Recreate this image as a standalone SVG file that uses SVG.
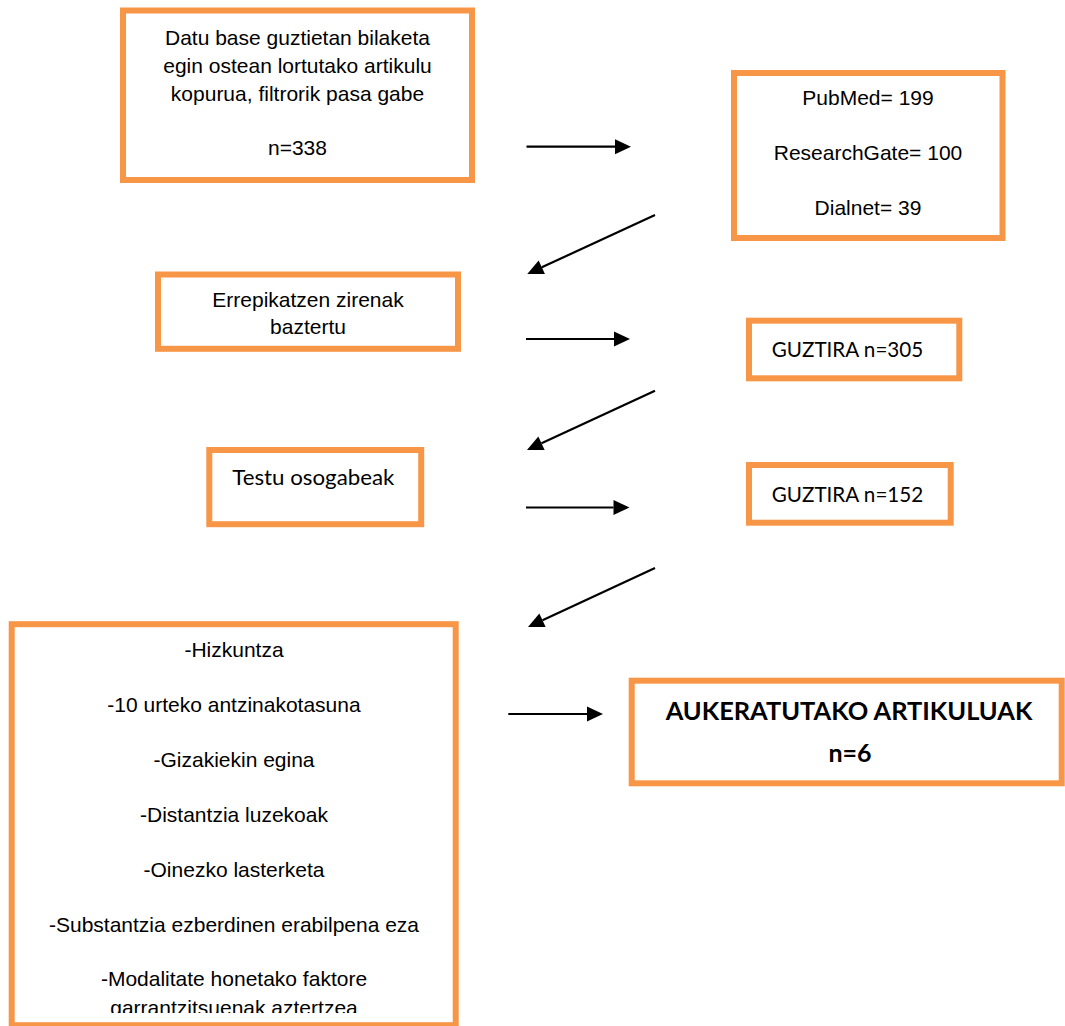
<svg xmlns="http://www.w3.org/2000/svg" width="1065" height="1026" viewBox="0 0 1065 1026">
<style>
.box{fill:#fff;stroke:#F79646;stroke-width:6}
.a{font-family:"Liberation Sans",Arial,sans-serif;font-size:21px;fill:#000;text-anchor:middle}
.c{font-family:Lato,"Open Sans",sans-serif;font-size:21px;fill:#000}
.cb{font-family:Lato,"Open Sans",sans-serif;font-size:25px;font-weight:bold;fill:#000;text-anchor:middle}
.conn{stroke:#000;stroke-width:2.2;fill:none;marker-end:url(#ah)}
</style>
<defs>
<marker id="ah" markerUnits="userSpaceOnUse" markerWidth="17" markerHeight="16" refX="0" refY="7.5" orient="auto" overflow="visible">
<path d="M0,0 L16,7.5 L0,15 Z" fill="#000"/>
</marker>
<clipPath id="clipCrit"><rect x="15" y="627" width="437" height="386"/></clipPath>
</defs>
<rect width="1065" height="1026" fill="#fff"/>
<g id="n1">
<rect class="box" x="123" y="10.5" width="349" height="169.5"/>
<text class="a" x="297.5" y="44.5">Datu base guztietan bilaketa</text>
<text class="a" x="297.5" y="72.5">egin ostean lortutako artikulu</text>
<text class="a" x="297.5" y="100.5">kopurua, filtrorik pasa gabe</text>
<text class="a" x="297.5" y="154.5">n=338</text>
</g>
<g id="n2">
<rect class="box" x="734" y="73" width="268.5" height="165"/>
<text class="a" x="868" y="105">PubMed= 199</text>
<text class="a" x="868" y="160">ResearchGate= 100</text>
<text class="a" x="868" y="215">Dialnet= 39</text>
</g>
<g id="n3">
<rect class="box" x="158" y="274.5" width="300" height="74.3"/>
<text class="a" x="308" y="306.7">Errepikatzen zirenak</text>
<text class="a" x="308" y="334">baztertu</text>
</g>
<g id="n4">
<rect class="box" x="749" y="320.7" width="210.3" height="57.6"/>
<text class="c" x="771.7" y="356.7" textLength="151.6" lengthAdjust="spacingAndGlyphs">GUZTIRA n=305</text>
</g>
<g id="n5">
<rect class="box" x="209.3" y="450" width="211.9" height="74.2"/>
<text class="c" x="232.3" y="485" textLength="162" lengthAdjust="spacingAndGlyphs">Testu osogabeak</text>
</g>
<g id="n6">
<rect class="box" x="749" y="465" width="201.7" height="57.7"/>
<text class="c" x="771.7" y="501.7" textLength="151.6" lengthAdjust="spacingAndGlyphs">GUZTIRA n=152</text>
</g>
<g id="n7">
<rect class="box" x="11.7" y="624.2" width="444" height="401"/>
<g clip-path="url(#clipCrit)">
<text class="a" x="234" y="656.7">-Hizkuntza</text>
<text class="a" x="234" y="711.7">-10 urteko antzinakotasuna</text>
<text class="a" x="234" y="766.7">-Gizakiekin egina</text>
<text class="a" x="234" y="821.7">-Distantzia luzekoak</text>
<text class="a" x="234" y="876.7">-Oinezko lasterketa</text>
<text class="a" x="234" y="931.7">-Substantzia ezberdinen erabilpena eza</text>
<text class="a" x="234" y="986">-Modalitate honetako faktore</text>
<text class="a" x="234" y="1014.5">garrantzitsuenak aztertzea</text>
</g>
</g>
<g id="n8">
<rect class="box" x="631.7" y="680.7" width="430" height="102.6"/>
<text class="cb" x="849" y="720" textLength="366.7" lengthAdjust="spacingAndGlyphs">AUKERATUTAKO ARTIKULUAK</text>
<text class="cb" x="850" y="762.3">n=6</text>
</g>
<g id="connectors">
<line class="conn" x1="526.5" y1="146.7" x2="615" y2="146.7"/>
<line class="conn" x1="655" y1="215" x2="541.8" y2="267.3"/>
<line class="conn" x1="526" y1="339" x2="614" y2="339"/>
<line class="conn" x1="655" y1="390.7" x2="541.5" y2="443.3"/>
<line class="conn" x1="526" y1="507.5" x2="613.5" y2="507.5"/>
<line class="conn" x1="655" y1="568" x2="542.5" y2="620.3"/>
<line class="conn" x1="508.3" y1="714" x2="587" y2="714"/>
</g>
</svg>
